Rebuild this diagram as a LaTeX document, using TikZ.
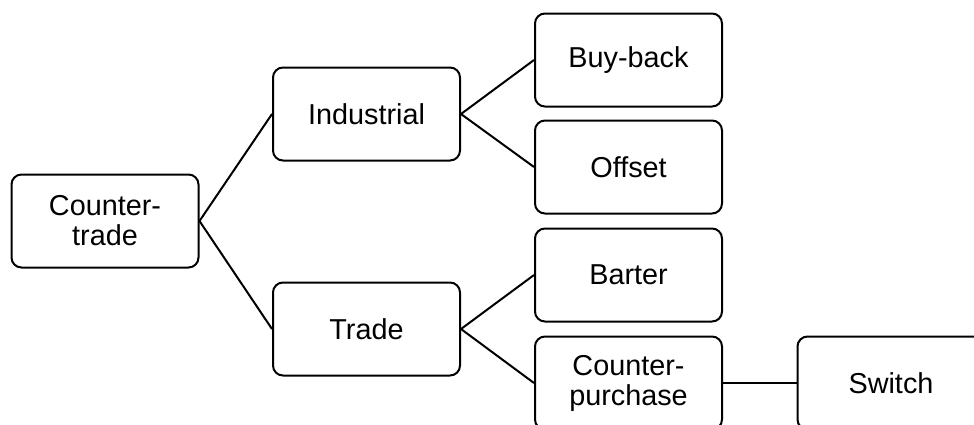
\documentclass[tikz,border=0pt]{standalone}
\usepackage{fontspec}
\setmainfont{Liberation Sans}
\begin{document}
\begin{tikzpicture}[x=1pt,y=-1pt,
  box/.style={draw=black, line width=2pt, rounded corners=10pt,
    minimum width=187pt, minimum height=93pt, inner sep=0pt,
    align=center, font=\fontsize{28.8}{30}\selectfont},
  link/.style={draw=black, line width=2pt}]
  \useasboundingbox (0,0) rectangle (974,424);
  % tree of boxes
  \node[box] (ct)  at (105,221)   {Counter-\\trade};
  \node[box] (ind) at (366.5,114) {Industrial};
  \node[box] (trd) at (366.5,329) {Trade};
  \node[box] (bb)  at (628.5,60)  {Buy-back};
  \node[box] (off) at (628.5,167) {Offset};
  \node[box] (bar) at (628.5,275) {Barter};
  \node[box] (cp)  at (628.5,383) {Counter-\\purchase};
  \node[box] (sw)  at (891,383)   {Switch};
  % branches
  \draw[link] (ct.east) -- (ind.west);
  \draw[link] (ct.east) -- (trd.west);
  \draw[link] (ind.east) -- (bb.west);
  \draw[link] (ind.east) -- (off.west);
  \draw[link] (trd.east) -- (bar.west);
  \draw[link] (trd.east) -- (cp.west);
  \draw[link] (cp.east) -- (sw.west);
\end{tikzpicture}
\end{document}
